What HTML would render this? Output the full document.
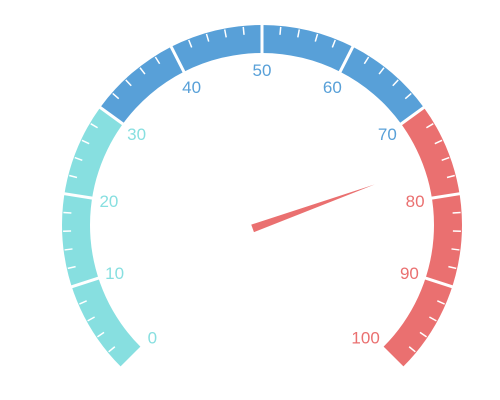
<!DOCTYPE html>
<html><head><meta charset="utf-8"><style>
html,body{margin:0;padding:0;background:#fff;}
svg{display:block;font-family:"Liberation Sans",sans-serif;}
</style></head><body>
<svg id="chart" width="500" height="400"></svg>
<script>
const value = 76;
const tickLabels = [0,10,20,30,40,50,60,70,80,90,100];
const bandStops = [0.3, 0.7, 1.0];
const bandColors = ["#87dfe0", "#58a0d8", "#ea7070"];
const minV = 0, maxV = 100;
const cx = 262, cy = 225, rOut = 200, rIn = 172, rLab = 155;
const startA = 225, endA = -45;
const NS = "http://www.w3.org/2000/svg";
const svg = document.getElementById("chart");
function ang(v){ return (startA + (endA - startA) * (v - minV) / (maxV - minV)) * Math.PI / 180; }
function pt(a, r){ return [cx + r * Math.cos(a), cy - r * Math.sin(a)]; }
function el(tag, attrs){ const e = document.createElementNS(NS, tag); for (const k in attrs) e.setAttribute(k, attrs[k]); svg.appendChild(e); return e; }
function colorAt(v){ const f = (v - minV) / (maxV - minV); for (let i = 0; i < bandStops.length; i++) if (f <= bandStops[i] + 1e-9) return bandColors[i]; return bandColors[bandColors.length-1]; }
let prev = 0;
bandStops.forEach((s, i) => {
  const v0 = minV + prev * (maxV - minV), v1 = minV + s * (maxV - minV);
  const a0 = ang(v0), a1 = ang(v1);
  const p0 = pt(a0, rOut), p1 = pt(a1, rOut), q1 = pt(a1, rIn), q0 = pt(a0, rIn);
  const large = Math.abs(a0 - a1) > Math.PI ? 1 : 0;
  const d = `M${p0} A${rOut},${rOut} 0 ${large} 1 ${p1} L${q1} A${rIn},${rIn} 0 ${large} 0 ${q0} Z`;
  const band = el("path", {d: d, fill: bandColors[i]});
  
  
  prev = s;
});
for (let v = minV; v <= maxV; v += 2) {
  if (v % 10 === 0) continue;
  const a = ang(v); const p = pt(a, rOut - 1), q = pt(a, rOut - 9);
  const t = el("line", {x1: p[0], y1: p[1], x2: q[0], y2: q[1], stroke: "#fff", "stroke-width": 1.5});
  
  
}
tickLabels.forEach(v => {
  const a = ang(v);
  if (v !== minV && v !== maxV) {
    const p = pt(a, rOut + 1), q = pt(a, rIn - 1);
    const s = el("line", {x1: p[0], y1: p[1], x2: q[0], y2: q[1], stroke: "#fff", "stroke-width": 3});
    
    
  }
  const lp = pt(a, rLab);
  const dy = (v === minV || v === maxV) ? 9 : 6;
  const dx = v === maxV ? -6 : 0;
  const tx = el("text", {x: lp[0] + dx, y: lp[1] + dy, "text-anchor": "middle", "font-size": 17, fill: colorAt(v)});
  tx.textContent = v;
  
  
});
const pa = ang(value);
const tip = pt(pa, 120);
const tail = pt(pa + Math.PI, 10);
const perp = pa + Math.PI / 2;
const w = 4;
const b1 = [tail[0] + w * Math.cos(perp), tail[1] - w * Math.sin(perp)];
const b2 = [tail[0] - w * Math.cos(perp), tail[1] + w * Math.sin(perp)];
const ptr = el("path", {d: `M${tip} L${b1} L${b2} Z`, fill: colorAt(value)});


</script>
</body></html>
